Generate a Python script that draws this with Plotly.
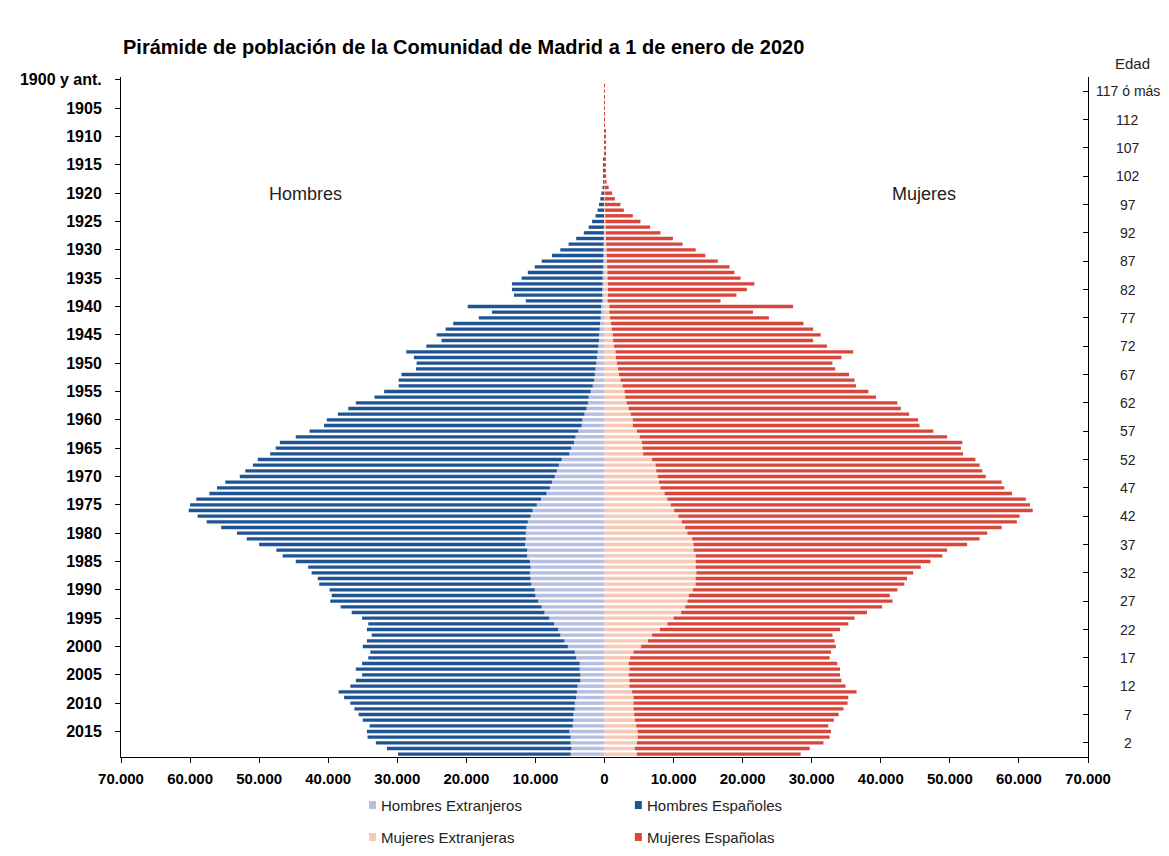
import plotly.graph_objects as go

# ---------------- data ----------------
anios = list(range(1900, 2020))  # birth year categories (1900 = "1900 y ant.")

hombres_ext = [
    0, 0, 0, 0, 0, 0, 0, 0, 0, 0,
    0, 0, 0, 0, 0, 10, 10, 10, 10, 10,
    20, 20, 40, 50, 60, 80, 100, 100, 120, 140,
    160, 180, 200, 220, 250, 280, 300, 320, 330, 320,
    500, 500, 550, 650, 700, 800, 800, 900, 1000, 1100,
    1200, 1300, 1400, 1500, 1700, 2000, 2300, 2400, 2600, 2900,
    3200, 3300, 3800, 4200, 4400, 4800, 5100, 6200, 6600, 6900,
    7200, 7600, 7900, 8400, 9200, 9800, 10400, 10700, 11100, 11300,
    11400, 11400, 11500, 11200, 11200, 10800, 10700, 10800, 10700, 10600,
    10100, 10000, 9600, 9100, 8700, 8000, 7300, 6700, 6400, 5800,
    5300, 4300, 4100, 3600, 3600, 3500, 3500, 3900, 4000, 4100,
    4300, 4300, 4500, 4500, 4600, 5100, 4900, 4900, 4800, 4900,
]
hombres_esp = [
    0, 0, 0, 10, 10, 10, 10, 20, 20, 30,
    30, 40, 50, 60, 80, 90, 100, 130, 180, 280,
    430, 580, 760, 950, 1240, 1720, 2200, 2900, 3980, 5060,
    6240, 7420, 8900, 9880, 10850, 11720, 13100, 13080, 12770, 11080,
    19300, 15800, 17650, 21250, 22300, 23500, 22800, 24900, 27700, 26500,
    26000, 26000, 28000, 28300, 28100, 29900, 31000, 33600, 34500, 35700,
    37000, 37300, 38900, 40500, 42600, 42800, 43300, 44000, 44300, 45100,
    45600, 47300, 48200, 48800, 49900, 50200, 49800, 48200, 46500, 44200,
    41800, 40400, 38500, 36300, 35400, 33900, 32200, 31600, 30800, 30700,
    29700, 29500, 30100, 29100, 27900, 27100, 26900, 27700, 27300, 28600,
    29700, 29600, 30100, 31500, 32400, 31600, 32500, 32900, 34500, 33600,
    32500, 31900, 31100, 30500, 29400, 29300, 29400, 28200, 26700, 25000,
]
mujeres_ext = [
    0, 0, 0, 0, 0, 0, 0, 0, 0, 0,
    0, 0, 0, 0, 0, 10, 10, 10, 10, 20,
    50, 60, 80, 100, 120, 150, 180, 200, 220, 250,
    300, 320, 350, 400, 420, 450, 500, 500, 500, 450,
    700, 700, 800, 950, 1050, 1200, 1250, 1400, 1600, 1650,
    1800, 1950, 2100, 2300, 2600, 2900, 3000, 3200, 3500, 3800,
    4100, 4100, 4700, 5100, 5400, 5500, 5600, 6900, 7400, 7500,
    7700, 7900, 8100, 8700, 9100, 9600, 10100, 10700, 11200, 11700,
    12000, 12700, 12900, 12900, 13200, 13200, 13200, 13300, 13200, 13200,
    12800, 12200, 12000, 11700, 11100, 10000, 9100, 8000, 6900, 6300,
    5300, 4200, 3700, 3500, 3600, 3500, 3600, 3600, 4000, 4200,
    4200, 4200, 4300, 4400, 4600, 4800, 4800, 4700, 4400, 4700,
]
mujeres_esp = [
    0, 10, 10, 20, 30, 40, 50, 60, 70, 80,
    100, 120, 140, 160, 180, 190, 210, 240, 290, 580,
    1050, 1440, 2220, 2700, 3980, 5050, 6420, 7900, 9680, 11050,
    12900, 14280, 16050, 17700, 18380, 19250, 21200, 20100, 18600, 16350,
    26600, 20800, 23000, 27850, 29150, 30100, 28950, 30800, 34400, 32650,
    31200, 31450, 33300, 33900, 33800, 35300, 36300, 39200, 39400, 40300,
    41300, 41500, 42900, 44500, 46400, 46100, 46300, 46800, 46900, 47200,
    47500, 49600, 49800, 50300, 51900, 52000, 51900, 49400, 48500, 45800,
    43400, 41600, 39600, 36700, 35700, 34000, 32600, 31400, 30600, 30200,
    29600, 29100, 29700, 28500, 26900, 26200, 26200, 26100, 26100, 27000,
    28200, 28600, 28900, 30200, 30500, 30600, 30700, 31300, 32500, 31100,
    31000, 30400, 29600, 28800, 27800, 28000, 27800, 27000, 25300, 23700,
]

# axis tick labels
anio_ticks = [1900, 1905, 1910, 1915, 1920, 1925, 1930, 1935, 1940, 1945, 1950,
              1955, 1960, 1965, 1970, 1975, 1980, 1985, 1990, 1995, 2000, 2005,
              2010, 2015]
anio_labels = ["1900 y ant."] + [str(a) for a in anio_ticks[1:]]
edad_ticks = [117, 112, 107, 102, 97, 92, 87, 82, 77, 72, 67, 62, 57, 52, 47,
              42, 37, 32, 27, 22, 17, 12, 7, 2]
edad_labels = ["117 ó más"] + [str(e) for e in edad_ticks[1:]]
x_ticks = [-70000, -60000, -50000, -40000, -30000, -20000, -10000, 0,
           10000, 20000, 30000, 40000, 50000, 60000, 70000]
x_labels = ["70.000", "60.000", "50.000", "40.000", "30.000", "20.000", "10.000", "0",
            "10.000", "20.000", "30.000", "40.000", "50.000", "60.000", "70.000"]

series_names = ["Hombres Extranjeros", "Hombres Españoles",
                "Mujeres Extranjeras", "Mujeres Españolas"]
colors = ["#B6BEE2", "#1F5494", "#F7C8B4", "#D8453A"]

# ---------------- layout geometry (px, figure coordinates) ----------------
W, H = 1153, 840           # page body has 8px default margin
L, R, T, B = 109, 1080, 69, 749
FONT = "Liberation Sans, Arial, sans-serif"


def px_x(px):
    return (px - L) / (R - L)


def px_y(py):
    return (B - py) / (B - T)


fig = go.Figure()
series = [hombres_ext, hombres_esp, mujeres_ext, mujeres_esp]
signs = [-1, -1, 1, 1]
for name, vals, sgn, col in zip(series_names, series, signs, colors):
    fig.add_trace(go.Bar(
        y=anios, x=[sgn * v for v in vals], orientation="h", name=name,
        marker=dict(color=col, line=dict(width=0)), showlegend=False,
        customdata=vals,
        hovertemplate="%{y}: %{customdata}<extra>" + name + "</extra>",
    ))

# invisible trace to bind the right (age) axis
fig.add_trace(go.Scatter(x=[None], y=[None], yaxis="y2", showlegend=False,
                         hoverinfo="skip"))

annotations = [
    dict(text="<b>Pirámide de población de la Comunidad de Madrid a 1 de enero de 2020</b>",
         xref="paper", yref="paper", x=px_x(109), y=px_y(39), xanchor="left",
         yanchor="middle", showarrow=False, font=dict(size=20, color="#000000")),
    dict(text="Hombres", xref="paper", yref="paper", x=px_x(294), y=px_y(186),
         xanchor="center", yanchor="middle",
         showarrow=False, font=dict(size=18, color="#222222")),
    dict(text="Mujeres", xref="paper", yref="paper", x=px_x(915), y=px_y(186),
         xanchor="center", yanchor="middle",
         showarrow=False, font=dict(size=18, color="#222222")),
    dict(text="Edad", xref="paper", yref="paper", x=px_x(1125), y=px_y(55),
         xanchor="center", yanchor="middle",
         showarrow=False, font=dict(size=15, color="#222222")),
]
for e, lab in zip(edad_ticks, edad_labels):
    annotations.append(dict(text=lab, xref="paper", yref="y", x=px_x(1120),
                            y=2019 - e, xanchor="center", yanchor="middle",
                            showarrow=False, font=dict(size=14, color="#222222")))

# legend (manual, 2x2)
shapes = []
leg_pos = [(358, 797), (625, 797), (358, 829), (625, 829)]
for (lx, ly), name, col in zip(leg_pos, series_names, colors):
    shapes.append(dict(type="rect", xref="paper", yref="paper",
                       x0=px_x(lx), x1=px_x(lx + 7), y0=px_y(ly - 4), y1=px_y(ly + 4),
                       fillcolor=col, line=dict(width=0)))
    annotations.append(dict(text=name, xref="paper", yref="paper", x=px_x(lx + 10),
                            y=px_y(ly), xanchor="left", yanchor="middle",
                            showarrow=False, font=dict(size=15, color="#222222")))

fig.update_layout(
    width=W, height=H,
    margin=dict(l=L, r=W - R, t=T, b=H - B, pad=0),
    paper_bgcolor="white", plot_bgcolor="white",
    barmode="relative", bargap=0.4,
    font=dict(family=FONT, color="#000000"),
    showlegend=False,
    xaxis=dict(range=[-70000, 70000], tickvals=x_ticks, ticktext=x_labels,
               showgrid=False, zeroline=False, showline=True, linecolor="#000000",
               linewidth=1, ticks="outside", ticklen=5, tickcolor="#000000",
               tickfont=dict(size=15, family=FONT, color="#000000", weight="bold"),
               ticklabelstandoff=3, fixedrange=True),
    yaxis=dict(range=[2019.5, 1899.5], tickvals=anio_ticks, ticktext=anio_labels,
               showgrid=False, zeroline=False, showline=True, linecolor="#000000",
               linewidth=1, ticks="outside", ticklen=5, tickcolor="#000000",
               tickfont=dict(size=16, family=FONT, color="#000000", weight="bold"),
               ticklabelstandoff=10, fixedrange=True),
    yaxis2=dict(range=[2019.5, 1899.5], overlaying="y", side="right",
                tickvals=[2019 - e for e in edad_ticks], showticklabels=False,
                showgrid=False, zeroline=False, showline=True, linecolor="#000000",
                linewidth=1, ticks="inside", ticklen=5, tickcolor="#000000",
                fixedrange=True),
    annotations=annotations, shapes=shapes,
)

fig.write_html("out.html")
